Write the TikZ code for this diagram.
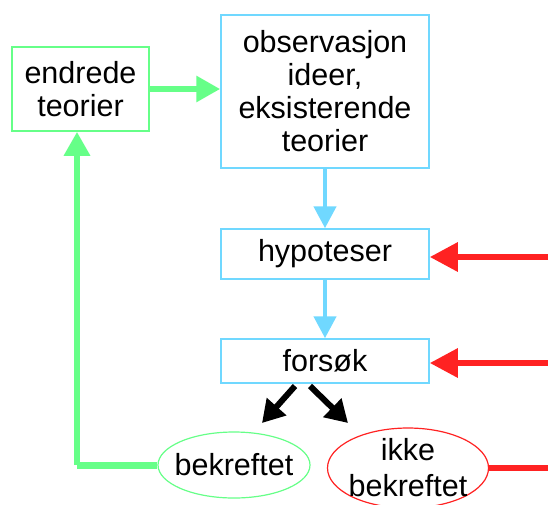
\documentclass[tikz,border=0pt]{standalone}
\usepackage{fontspec}
\setmainfont{Liberation Sans}
\usetikzlibrary{arrows.meta,shapes.geometric}
\definecolor{lgreen}{HTML}{66FF88}
\definecolor{lblue}{HTML}{70D8FF}
\definecolor{lred}{HTML}{FF2222}
\tikzset{
  gbox/.style={draw=lgreen, line width=1.5pt, rectangle, align=center, inner sep=0pt},
  bbox/.style={draw=lblue, line width=1.5pt, rectangle, align=center, inner sep=0pt},
  gell/.style={draw=lgreen, line width=1.2pt, ellipse, align=center, inner sep=0pt},
  rell/.style={draw=lred, line width=1.2pt, ellipse, align=center, inner sep=0pt},
  garrow/.style={draw=lgreen, line width=6pt, -{Triangle[length=24pt,width=25pt]}},
  gline/.style={draw=lgreen, line width=7pt},
  barrow/.style={draw=lblue, line width=4.5pt, -{Triangle[length=22pt,width=22pt]}},
  rarrow/.style={draw=lred, line width=6pt, -{Triangle[length=28pt,width=28pt]}},
  rline/.style={draw=lred, line width=6pt},
  karrow/.style={draw=black, line width=6pt, -{Triangle[length=22pt,width=25pt]}},
}
\begin{document}
\begin{tikzpicture}[x=1pt,y=-1pt, font=\fontsize{30.5}{33}\selectfont]
\useasboundingbox (0,0) rectangle (548,504);
\clip (0,0) rectangle (548,504);
\node[gbox, minimum width=137pt, minimum height=84pt] (end) at (80.5,89) {endrede\\teorier};
\node[bbox, minimum width=208pt, minimum height=153pt] (obs) at (325,91.5) {observasjon\\ideer,\\eksisterende\\teorier};
\node[bbox, minimum width=208pt, minimum height=50pt] (hyp) at (325,254) {hypoteser};
\node[bbox, minimum width=208pt, minimum height=44pt] (fors) at (325,361) {fors\o k};
\node[gell, minimum width=152pt, minimum height=66pt, inner xsep=-6pt] (bek) at (234,465) {bekreftet};
\node[rell, minimum width=161pt, minimum height=80pt, inner xsep=-3pt, inner ysep=-8pt, font=\fontsize{30.5}{36}\selectfont] (ikke) at (408,468) {ikke\\bekreftet};
\coordinate (k1s) at (295,386);
\coordinate (k1e) at (262,423);
\coordinate (k2s) at (310,386);
\coordinate (k2e) at (348,423);
\coordinate (r1) at (620,468);
\coordinate (r2) at (620,257);
\coordinate (r3) at (620,363);
\draw[garrow] (end.east) -- (end.east -| obs.west);
\draw[barrow] (obs.south) -- (hyp.north);
\draw[barrow] (hyp.south) -- (fors.north);
\draw[karrow] (k1s) -- (k1e);
\draw[karrow] (k2s) -- (k2e);
\draw[gline] (bek.west) -| ([xshift=-3.5pt]end.south |- bek.west);
\draw[garrow] ([xshift=-3.5pt]end.south |- bek.west) -- ([xshift=-3.5pt]end.south);
\draw[rline] (ikke.east) -- (r1) -- (r2);
\draw[rarrow] (r2) -- (r2 -| hyp.east);
\draw[rarrow] (r3) -- (r3 -| fors.east);
\end{tikzpicture}
\end{document}
